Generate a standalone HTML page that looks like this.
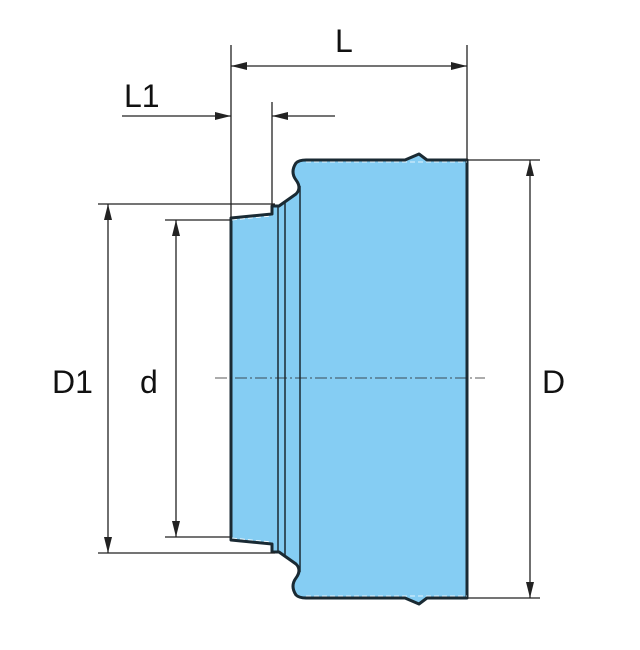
<!DOCTYPE html>
<html><head><style>body{margin:0;background:#fff}svg{display:block}</style></head><body>
<svg width="640" height="650" viewBox="0 0 640 650" xmlns="http://www.w3.org/2000/svg">
<defs>
<marker id="a" markerWidth="16" markerHeight="8" refX="16" refY="4" orient="auto" markerUnits="userSpaceOnUse"><path d="M0,0 L16,4 L0,8 z" fill="#222"/></marker>
</defs>
<g fill="#85cdf3" stroke="#1a2a33" stroke-width="3" stroke-linejoin="round">
<path d="M231,218 L272,214 L272,206 L279,206 L296,194 Q302,188 296,180 Q290,172 296,163 Q299,160 306,160 L405,160 L419,154 L427,160 L467,160 L467,598 L427,598 L419,604 L405,598 L306,598 Q299,598 296,595 Q290,586 296,578 Q302,570 296,564 L279,552 L272,552 L272,544 L231,540 Z"/>
</g>
<g stroke="#1a2a33" stroke-width="1.5" fill="none">
<line x1="278" y1="207" x2="278" y2="551"/>
<line x1="285" y1="203" x2="285" y2="555"/>
<line x1="300" y1="186" x2="300" y2="572"/>
</g>
<g stroke="#fff" stroke-width="0.8" stroke-dasharray="5,3" fill="none">
<path d="M306,162 L467,162"/><path d="M306,596 L467,596"/>
<path d="M232,220 L272,216"/><path d="M232,538 L272,542"/>
</g>
<g stroke="#222" stroke-width="1.3" fill="none">
<line x1="231" y1="45" x2="231" y2="218"/>
<line x1="467" y1="45" x2="467" y2="160"/>
<line x1="272" y1="102" x2="272" y2="206"/>
<line x1="245" y1="66" x2="231" y2="66" marker-end="url(#a)"/>
<line x1="245" y1="66" x2="467" y2="66" marker-end="url(#a)"/>
<line x1="122" y1="116" x2="231" y2="116" marker-end="url(#a)"/>
<line x1="335" y1="116" x2="272" y2="116" marker-end="url(#a)"/>
<line x1="98" y1="204" x2="275" y2="204"/>
<line x1="98" y1="553" x2="275" y2="553"/>
<line x1="165" y1="220" x2="231" y2="220"/>
<line x1="165" y1="537" x2="231" y2="537"/>
<line x1="467" y1="160" x2="540" y2="160"/>
<line x1="467" y1="598" x2="540" y2="598"/>
<line x1="108" y1="380" x2="108" y2="204" marker-end="url(#a)"/>
<line x1="108" y1="380" x2="108" y2="553" marker-end="url(#a)"/>
<line x1="176" y1="380" x2="176" y2="220" marker-end="url(#a)"/>
<line x1="176" y1="380" x2="176" y2="537" marker-end="url(#a)"/>
<line x1="530" y1="380" x2="530" y2="160" marker-end="url(#a)"/>
<line x1="530" y1="380" x2="530" y2="598" marker-end="url(#a)"/>
<line x1="215" y1="378" x2="485" y2="378" stroke-width="0.8" stroke-dasharray="12,3,2,3"/>
</g>
<g font-family="Liberation Sans, sans-serif" font-size="32" fill="#111">
<text x="335" y="52">L</text>
<text x="124" y="107">L1</text>
<text x="52" y="393">D1</text>
<text x="140" y="393">d</text>
<text x="542" y="393">D</text>
</g>
</svg>
</body></html>
